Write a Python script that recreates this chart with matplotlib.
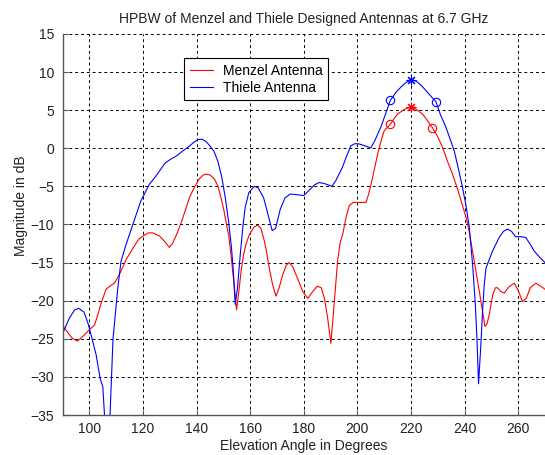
import matplotlib
matplotlib.use("Agg")
import matplotlib.pyplot as plt

# Thiele antenna pattern (angle in degrees, magnitude in dB)
thiele_ang = [90, 92.5, 94.5, 96, 98, 99.5, 101, 102.5, 104, 105, 105.8, 106.7, 107.7,
              108.8, 110.6, 111.8, 113.7, 116.2, 119.2, 122.4, 124.5, 126.5, 128.1, 130,
              132.5, 135, 137, 139, 140.6, 142, 143.5, 145, 146.5, 148, 149.4, 150.7,
              151.9, 153, 153.7, 154.4, 155.2, 156.3, 157.2, 158.1, 159.5, 161.5, 163,
              165, 166.5, 168.2, 169.5, 171.2, 173, 175, 177.5, 180, 182, 184, 185.6,
              187.5, 190.5, 192, 194.4, 196, 197.5, 199, 200.6, 203, 205, 206.5, 208.75,
              210.5, 212.3, 214.5, 216.3, 218, 220, 222, 224, 226, 229.3, 231, 233,
              234.6, 236.1, 237.7, 239.2, 240.5, 241.7, 243, 244, 244.6, 245.2, 246.1,
              246.7, 247.3, 248, 250.4, 252.9, 254.5, 256, 257.5, 259, 261, 262.8,
              264.5, 266, 268, 270]
thiele_db = [-24.3, -22.3, -21.2, -21.0, -21.5, -23.0, -25.0, -27.1, -30.2, -31.3, -36, -40, -35,
             -25.0, -18.3, -14.8, -12.6, -10.0, -6.9, -4.7, -3.8, -2.8, -2.0, -1.5,
             -1.0, -0.3, 0.2, 0.8, 1.15, 1.2, 0.9, 0.3, -0.4, -1.8, -3.8, -6.5,
             -9.5, -13.0, -16.1, -20.5, -18.5, -13.9, -10.5, -7.8, -5.8, -5.0, -5.2,
             -6.5, -8.5, -10.8, -10.5, -8.0, -6.5, -6.0, -6.1, -6.2, -5.5, -4.8, -4.5,
             -4.6, -5.0, -4.2, -2.5, -1.0, 0.3, 0.6, 0.58, 0.3, 0.05, 1.0, 2.8,
             4.5, 6.3, 7.4, 8.05, 8.6, 9.0, 8.8, 8.2, 7.4, 6.1, 4.4, 2.8,
             1.2, -0.3, -2.7, -5.1, -7.5, -10.2, -15.3, -20.5, -24.9, -30.9, -25.6,
             -21.4, -18.0, -15.7, -13.5, -11.7, -10.9, -10.6, -10.9, -11.6, -11.6, -11.7,
             -12.6, -13.5, -14.3, -15.0]

# Menzel antenna pattern
menzel_ang = [90, 92, 93.5, 95.5, 97.5, 100, 101.9, 103, 104.4, 106.2, 108, 109.3, 110.5,
              111.8, 113.7, 116.8, 118.5, 120.5, 122, 123.6, 126.1, 128, 129.8, 131,
              132.9, 134.5, 136.1, 137.5, 139.2, 141, 142.5, 143.5, 145, 146.6, 148,
              149.1, 150.1, 150.9, 152, 152.8, 154.1, 154.9, 155.7, 156.6, 157.5, 158.4,
              159.7, 161.5, 162.8, 164, 165.3, 166.2, 167.1, 168.3, 169.6, 170.8, 172.1,
              173.5, 174.6, 175.8, 177.1, 178.5, 179.6, 181.5, 183.3, 185, 186.5, 187.7,
              188.9, 190.1, 191.4, 192.6, 193.5, 194.5, 195.8, 197, 198.5, 200.1, 203.2,
              204.2, 205.1, 206.3, 207.6, 209, 210, 212.3, 213.5, 215, 217.5, 220, 222,
              224.3, 226, 228, 230, 231.8, 233.5, 235.5, 237.5, 239.2, 240.5, 241.7,
              243.6, 245.5, 246.7, 247.6, 248.4, 249.2, 250.5, 251.5, 252.3, 253.5,
              254.8, 256.5, 258.5, 259.8, 261.6, 263, 264.5, 266.6, 268, 270]
menzel_db = [-23.3, -24.2, -24.9, -25.3, -24.7, -23.8, -23.2, -22.0, -20.3, -18.5, -18.0, -17.7, -17.0,
             -16.1, -14.6, -12.8, -11.9, -11.4, -11.1, -11.1, -11.5, -12.2, -13.0, -12.5,
             -11.0, -9.5, -7.8, -6.3, -5.1, -4.0, -3.5, -3.4, -3.5, -4.0, -5.0,
             -6.5, -8.0, -9.5, -11.5, -13.9, -18.3, -21.2, -19.0, -16.1, -14.0, -12.6,
             -11.3, -10.3, -10.1, -10.5, -12.2, -13.8, -15.7, -17.8, -19.4, -18.3, -16.6,
             -15.3, -15.0, -15.5, -16.6, -17.8, -18.8, -19.7, -18.8, -18.1, -18.3, -19.7,
             -22.3, -25.6, -20.1, -14.8, -12.5, -11.3, -9.0, -7.5, -7.1, -7.1, -7.1,
             -6.0, -4.7, -2.8, -0.7, 1.2, 2.3, 3.15, 3.8, 4.5, 5.1, 5.45, 5.1,
             4.5, 3.7, 2.7, 1.5, 0.1, -1.6, -3.4, -5.5, -7.5, -9.0, -10.9,
             -14.8, -18.8, -21.4, -23.4, -23.0, -21.8, -19.2, -18.3, -18.3, -18.8,
             -19.0, -18.2, -17.7, -18.5, -20.1, -19.7, -18.3, -17.7, -18.0, -18.5]

# peak (*) and half power (o) points
thiele_peak = (220, 9.0)
menzel_peak = (220, 5.45)
thiele_hp_ang = [212.3, 229.3]
thiele_hp_db = [6.3, 6.1]
menzel_hp_ang = [212.3, 228]
menzel_hp_db = [3.15, 2.7]

plt.rcParams['font.family'] = ['Liberation Sans', 'DejaVu Sans']

fig = plt.figure(figsize=(5.45, 4.55), dpi=100)
ax = fig.add_axes([0.1149, 0.0879, 0.8851, 0.8374])

ax.plot(menzel_ang, menzel_db, color='red', lw=0.8, label='Menzel Antenna')
ax.plot(thiele_ang, thiele_db, color='blue', lw=0.8, label='Thiele Antenna')

ax.plot(menzel_hp_ang, menzel_hp_db, 'o', mfc='none', mec='red', ms=6, mew=0.8)
ax.plot(thiele_hp_ang, thiele_hp_db, 'o', mfc='none', mec='blue', ms=6, mew=0.8)
ax.plot([menzel_peak[0]], [menzel_peak[1]], marker=(8, 2, 0), color='red', ms=7, mew=0.8)
ax.plot([thiele_peak[0]], [thiele_peak[1]], marker=(8, 2, 0), color='blue', ms=7, mew=0.8)

ax.set_xlim(90, 270)
ax.set_ylim(-35, 15)
ax.set_xticks(range(100, 261, 20))
ax.set_yticks(range(-35, 16, 5))
ax.grid(True, color='black', linestyle=(0, (3, 3)), linewidth=0.7)

for s in ['top', 'right']:
    ax.spines[s].set_visible(False)
for s in ['left', 'bottom']:
    ax.spines[s].set_color('#555555')
    ax.spines[s].set_linewidth(1.0)
ax.tick_params(direction='in', length=3.5, color='#555555', labelsize=10, labelcolor='#222222')
ax.tick_params(axis='x', pad=5)
ax.tick_params(axis='y', pad=6)

ax.set_title('HPBW of Menzel and Thiele Designed Antennas at 6.7 GHz', fontsize=10, pad=8, color='#222222')
ax.set_xlabel('Elevation Angle in Degrees', fontsize=10, color='#222222', labelpad=2)
ax.set_ylabel('Magnitude in dB', fontsize=10, color='#222222')
ax.yaxis.set_label_coords(-0.071, 0.55)

leg = ax.legend(loc='upper left', bbox_to_anchor=(0.252, 0.936), borderaxespad=0,
                fontsize=10, handlelength=1.7, handletextpad=0.7, fancybox=False,
                framealpha=1, edgecolor='black', borderpad=0.4, labelspacing=0.2)
leg.get_frame().set_linewidth(0.8)

plt.savefig('out.png', dpi=100)
